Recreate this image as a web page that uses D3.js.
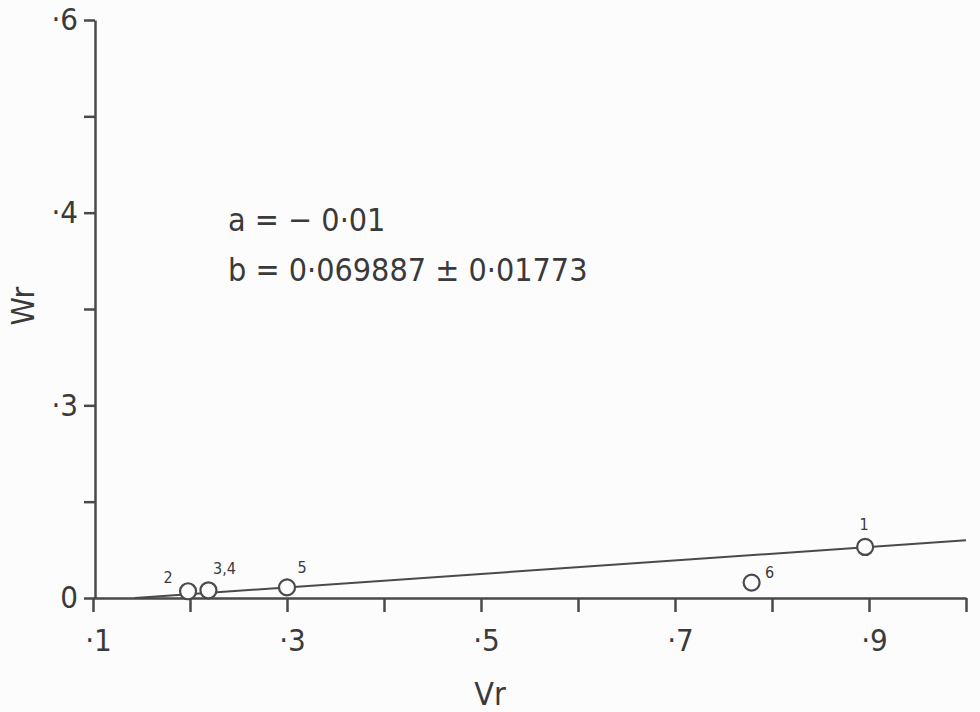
<!DOCTYPE html>
<html>
<head>
  <meta charset="utf-8">
  <script src="https://d3js.org/d3.v7.min.js"></script>
  <style>
    body { margin: 0; background: #fcfcfc; }
    svg text { font-family: 'DejaVu Sans', sans-serif; font-stretch: condensed; fill: #3a3a3a; }
  </style>
</head>
<body>
  <svg id="chart" width="980" height="712"></svg>
  <script>
    // data
    const pointLabels = ["1", "2", "3,4", "5", "6"];
    const vr = [0.896, 0.198, 0.219, 0.30, 0.779];
    const wr = [0.053, 0.007, 0.008, 0.011, 0.016];

    const xTicks = [0.1, 0.2, 0.3, 0.4, 0.5, 0.6, 0.7, 0.8, 0.9, 1.0];
    const xTickLabels = ["·1", "", "·3", "", "·5", "", "·7", "", "·9", ""];
    const yTicks = [0, 0.1, 0.2, 0.3, 0.4, 0.5, 0.6];
    const yTickLabels = ["0", "", "·3", "", "·4", "", "·6"];

    const fitA = -0.01, fitB = 0.069887;
    const fitText = ["a = − 0·01", "b = 0·069887 ± 0·01773"];

    const ink = "#4a4a4a";
    const svg = d3.select("#chart");

    const x = d3.scaleLinear().domain([0.1, 1.0]).range([93, 966]);
    const y = d3.scaleLinear().domain([0, 0.6]).range([598, 20]);

    // x axis
    const xAxis = svg.append("g").attr("transform", "translate(0,598)")
      .call(d3.axisBottom(x).tickValues(xTicks).tickFormat((d, i) => xTickLabels[i])
        .tickSize(14).tickPadding(17).tickSizeOuter(0));
    xAxis.select(".domain").attr("stroke", ink).attr("stroke-width", 2.5);
    xAxis.selectAll(".tick line").attr("stroke", ink).attr("stroke-width", 2.5);
    xAxis.selectAll("text").style("font-size", "31px").attr("dx", 5).attr("fill", "#3a3a3a");

    // y axis
    const yAxis = svg.append("g").attr("transform", "translate(95,0)")
      .call(d3.axisLeft(y).tickValues(yTicks).tickFormat((d, i) => yTickLabels[i])
        .tickSize(11).tickPadding(6).tickSizeOuter(0));
    yAxis.select(".domain").attr("stroke", ink).attr("stroke-width", 2.5);
    yAxis.selectAll(".tick line").attr("stroke", ink).attr("stroke-width", 2.5);
    yAxis.selectAll("text").style("font-size", "31px").attr("fill", "#3a3a3a");

    // axis titles
    svg.append("text").attr("x", 490).attr("y", 705).attr("text-anchor", "middle")
      .style("font-size", "32px").text("Vr");
    svg.append("text").attr("transform", "translate(34,306) rotate(-90)")
      .attr("text-anchor", "middle").style("font-size", "32px").text("Wr");

    // fitted line
    const x0 = (0 - fitA) / fitB;
    const fitLine = [[x0, 0], [1.0, fitA + fitB * 1.0]];
    svg.append("path")
      .attr("d", d3.line().x(d => x(d[0])).y(d => y(d[1]))(fitLine))
      .attr("fill", "none").attr("stroke", ink).attr("stroke-width", 2);

    // points
    const pts = vr.map((v, i) => ({ v: v, w: wr[i], label: pointLabels[i] }));
    svg.selectAll("circle.pt").data(pts).enter().append("circle")
      .attr("class", "pt")
      .attr("cx", d => x(d.v)).attr("cy", d => y(d.w)).attr("r", 8)
      .attr("fill", "#fcfcfc").attr("stroke", ink).attr("stroke-width", 2.2);

    const labelOffset = { "1": [-1, -17], "2": [-20, -8], "3,4": [16, -16], "5": [15, -14], "6": [18, -5] };
    svg.selectAll("text.pl").data(pts).enter().append("text")
      .attr("class", "pl")
      .attr("x", d => x(d.v) + labelOffset[d.label][0])
      .attr("y", d => y(d.w) + labelOffset[d.label][1])
      .attr("text-anchor", "middle")
      .style("font-size", "16px")
      .text(d => d.label);

    // fit annotation
    svg.selectAll("text.fit").data(fitText).enter().append("text")
      .attr("class", "fit")
      .attr("x", 228).attr("y", (d, i) => 231 + i * 50)
      .style("font-size", "32px")
      .text(d => d);
  </script>
</body>
</html>
